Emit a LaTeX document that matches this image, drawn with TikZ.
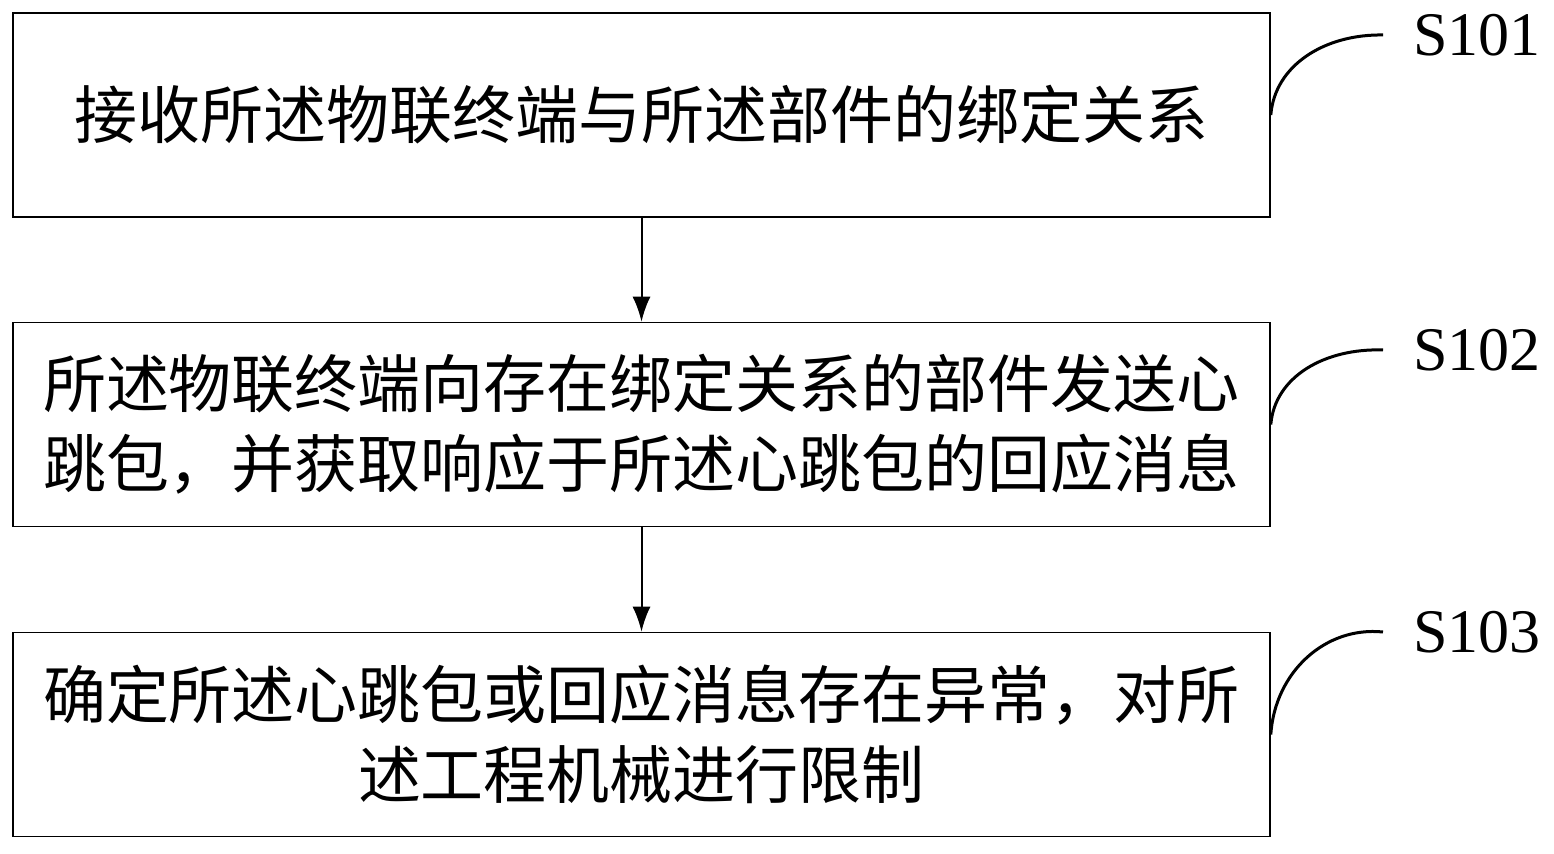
\documentclass[tikz,border=0pt]{standalone}
\usepackage{fontspec}
\setmainfont{Liberation Serif}
\newfontfamily\cjk{Noto Sans CJK SC}
\usetikzlibrary{positioning,arrows.meta,calc}
\tikzset{
>={Latex[width=9pt,length=12.5pt]},
stepbox/.style={rectangle, draw=black, line width=0.8pt, minimum width=628.5pt, minimum height=102pt,
                inner sep=0pt, align=center, font=\cjk\fontsize{31.5}{40}\selectfont},
steplabel/.style={anchor=west, inner xsep=15pt, inner ysep=0pt, font=\fontsize{31}{38}\selectfont},
leader/.style={line width=1.5pt},
}
\begin{document}
\begin{tikzpicture}[x=0.5pt, y=-0.5pt]
    \useasboundingbox (0,0) rectangle (1554,854);

    \node[stepbox] (STEP_1) at(641.5, 115)  {接收所述物联终端与所述部件的绑定关系};
    \node[stepbox] (STEP_2) at(641.5, 424.5)  {所述物联终端向存在绑定关系的部件发送心\\跳包，并获取响应于所述心跳包的回应消息};
    \node[stepbox] (STEP_3) at(641.5, 734.5)  {确定所述心跳包或回应消息存在异常，对所\\述工程机械进行限制};

    \node[steplabel] (LABEL_1) at(1383, 35)  {S101};
    \node[steplabel] (LABEL_2) at(1383, 350)  {S102};
    \node[steplabel] (LABEL_3) at(1383, 632)  {S103};

    \draw[->, line width=1pt] (STEP_1)  to (STEP_2) ;
    \draw[->, line width=1pt] (STEP_2)  to (STEP_3) ;

    \draw[leader] (STEP_1.east) .. controls +(4,-50) and +(-58,-1) .. (LABEL_1.west) ;
    \draw[leader] (STEP_2.east) .. controls +(4,-48) and +(-58,-2) .. (LABEL_2.west) ;
    \draw[leader] (STEP_3.east) .. controls +(4,-62) and +(-58,-6) .. (LABEL_3.west) ;
\end{tikzpicture}
\end{document}
